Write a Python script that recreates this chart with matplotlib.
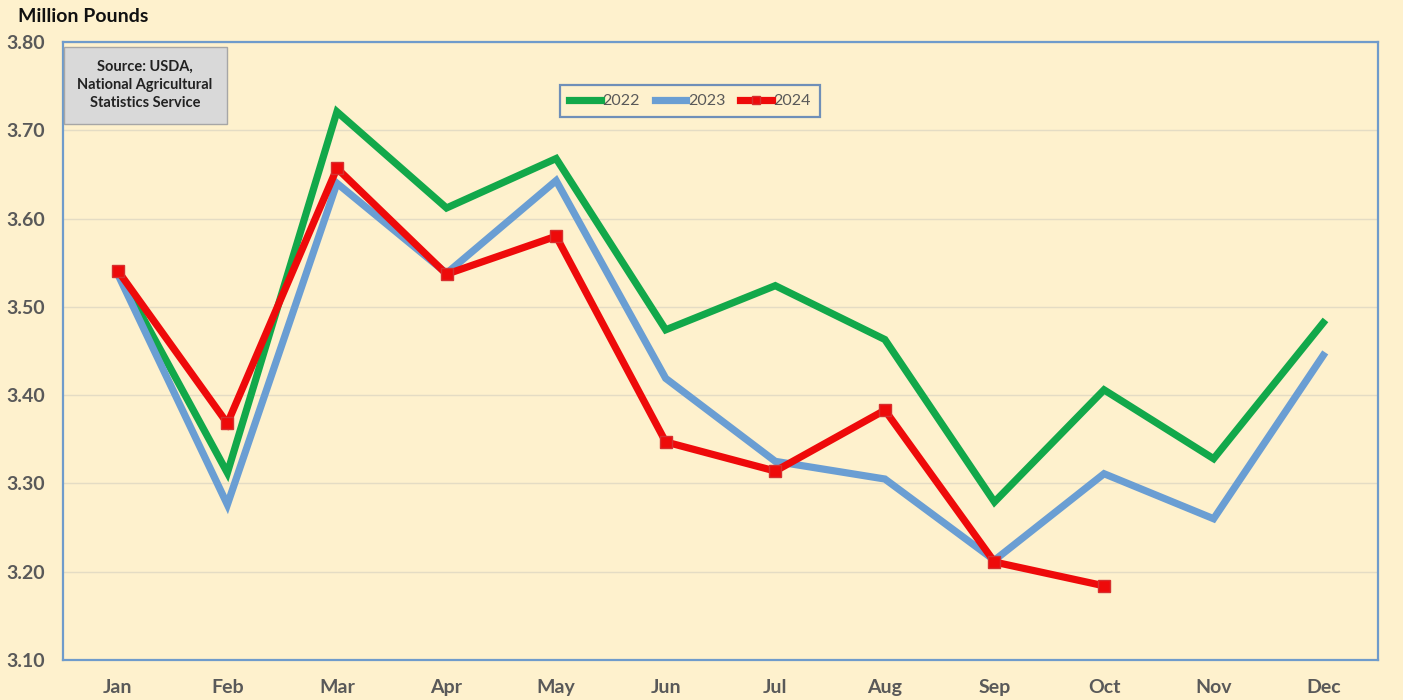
import matplotlib
matplotlib.use("Agg")
import matplotlib.pyplot as plt
from matplotlib.patches import Rectangle

months = ["Jan", "Feb", "Mar", "Apr", "May", "Jun", "Jul", "Aug", "Sep", "Oct", "Nov", "Dec"]
v2022 = [3.540, 3.312, 3.721, 3.612, 3.668, 3.474, 3.524, 3.463, 3.279, 3.406, 3.328, 3.482]
v2023 = [3.537, 3.276, 3.640, 3.538, 3.643, 3.419, 3.325, 3.305, 3.213, 3.311, 3.260, 3.445]
v2024 = [3.541, 3.368, 3.657, 3.537, 3.580, 3.347, 3.314, 3.383, 3.211, 3.184]
yticks = [3.10, 3.20, 3.30, 3.40, 3.50, 3.60, 3.70, 3.80]

BG = "#fef1cd"
FONT = ["Lato", "DejaVu Sans"]
plt.rcParams["font.family"] = FONT

fig = plt.figure(figsize=(14.03, 7.0), dpi=100, facecolor=BG)
ax = fig.add_axes([63/1403, 1-660/700, (1378-63)/1403, (660-42)/700])
ax.set_facecolor(BG)

x = list(range(len(months)))
ax.plot(x, v2022, color="#12a84a", lw=5.2, solid_joinstyle="miter", label="2022", zorder=3)
ax.plot(x, v2023, color="#6a9ed3", lw=5.2, solid_joinstyle="miter", label="2023", zorder=3)
ax.plot(x[:len(v2024)], v2024, color="#ee0a0a", lw=5.2, solid_joinstyle="miter",
        marker="s", markersize=8, markerfacecolor="#ee0a0a", markeredgecolor="#d63030",
        label="2024", zorder=4)

ax.set_xlim(-0.5, 11.5)
ax.set_ylim(3.10, 3.80)
ax.set_yticks(yticks)
ax.set_yticklabels([f"{t:.2f}" for t in yticks])
ax.set_xticks(x)
ax.set_xticklabels(months)
ax.grid(axis="y", color="#e4dcc4", lw=1.0, zorder=0)
ax.tick_params(axis="both", length=0, labelsize=14, labelcolor="#595959")
ax.tick_params(axis="y", pad=13)
ax.tick_params(axis="x", pad=14)
for lbl in ax.get_xticklabels() + ax.get_yticklabels():
    lbl.set_fontweight("bold")
for sp in ax.spines.values():
    sp.set_color("#6f9bcb")
    sp.set_linewidth(1.6)

fig.text(18/1403, 1-17/700, "Million Pounds", fontsize=14, fontweight="bold",
         color="#111111", ha="left", va="center")

# source box
ax.add_patch(Rectangle((64/1403, 1-124/700), (227-64)/1403, (124-47)/700,
                       transform=fig.transFigure, facecolor="#d9d9d9",
                       edgecolor="#a6a6a6", lw=1.0, zorder=5))
fig.text(145/1403, 1-85/700, "Source: USDA,\nNational Agricultural\nStatistics Service",
         fontsize=10.5, fontweight="bold", color="#222222", ha="center", va="center",
         linespacing=1.4, zorder=6)

leg = ax.legend(loc="center", bbox_to_anchor=(690/1403, 1-101/700),
                bbox_transform=fig.transFigure, ncol=3, frameon=True,
                fancybox=False, edgecolor="#6f8fb8", facecolor=BG, framealpha=1,
                fontsize=11.5, handlelength=2.0, handletextpad=0.1,
                columnspacing=0.9, borderpad=0.55, markerscale=0.7)
leg.get_frame().set_linewidth(1.6)
for t in leg.get_texts():
    t.set_color("#595959")

fig.savefig("out.png", dpi=100, facecolor=BG)
